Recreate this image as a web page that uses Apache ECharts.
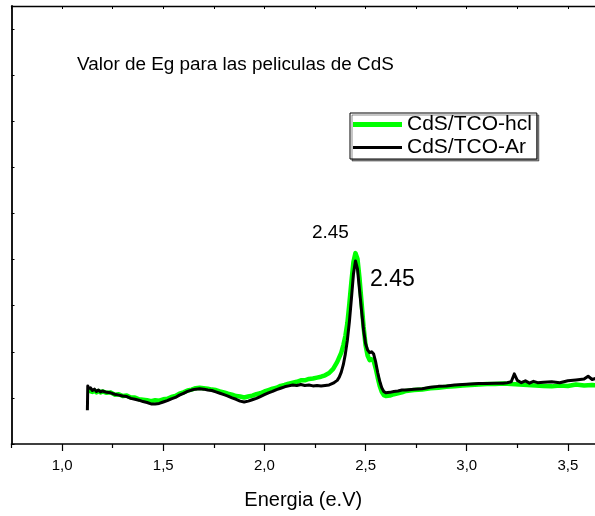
<!DOCTYPE html>
<html>
<head>
<meta charset="utf-8">
<script src="https://cdn.jsdelivr.net/npm/echarts@6.0.0/dist/echarts.min.js"></script>
<style>
  html, body { margin: 0; padding: 0; background: #fff; }
  #chart { width: 595px; height: 516px; }
</style>
</head>
<body>
<div id="chart"></div>
<script>
// Absorbance-derived Eg curves for two CdS films (x: photon energy in eV)
const hclEnergy = [1.135,1.14,1.15,1.16,1.17,1.18,1.19,1.20,1.22,1.24,1.26,1.28,1.30,1.32,1.34,1.36,1.38,1.40,1.42,1.44,1.46,1.48,1.50,1.52,1.54,1.56,1.58,1.60,1.62,1.64,1.66,1.68,1.70,1.72,1.74,1.76,1.78,1.80,1.82,1.84,1.86,1.88,1.90,1.92,1.94,1.96,1.98,2.00,2.02,2.04,2.06,2.08,2.10,2.12,2.14,2.16,2.18,2.20,2.22,2.24,2.26,2.28,2.30,2.32,2.34,2.36,2.38,2.39,2.40,2.41,2.42,2.43,2.44,2.45,2.46,2.47,2.48,2.49,2.50,2.51,2.52,2.53,2.54,2.55,2.56,2.57,2.58,2.59,2.60,2.62,2.64,2.66,2.68,2.70,2.74,2.78,2.82,2.86,2.90,2.94,2.98,3.02,3.06,3.10,3.14,3.18,3.22,3.26,3.30,3.34,3.38,3.42,3.46,3.50,3.54,3.58,3.62,3.645];
const hclSignal = [1.10,1.16,1.13,1.16,1.12,1.15,1.12,1.14,1.11,1.12,1.07,1.08,1.04,1.05,1.01,1.01,0.97,0.96,0.95,0.93,0.95,0.94,0.97,0.98,1.02,1.04,1.09,1.12,1.16,1.18,1.21,1.22,1.21,1.20,1.18,1.17,1.14,1.12,1.09,1.07,1.04,1.03,1.01,1.03,1.05,1.08,1.10,1.14,1.17,1.20,1.22,1.26,1.28,1.31,1.33,1.35,1.38,1.38,1.41,1.42,1.44,1.46,1.49,1.54,1.63,1.78,1.98,2.14,2.34,2.62,3.05,3.52,3.95,4.14,4.02,3.60,3.08,2.55,2.14,1.92,1.82,1.84,1.80,1.64,1.44,1.26,1.13,1.06,1.04,1.05,1.08,1.10,1.12,1.15,1.17,1.18,1.21,1.22,1.24,1.25,1.27,1.28,1.29,1.30,1.30,1.31,1.30,1.29,1.28,1.27,1.26,1.25,1.27,1.26,1.29,1.27,1.28,1.27];

const arEnergy = [1.125,1.127,1.13,1.14,1.15,1.16,1.17,1.18,1.19,1.20,1.22,1.24,1.26,1.28,1.30,1.32,1.34,1.36,1.38,1.40,1.42,1.44,1.46,1.48,1.50,1.52,1.54,1.56,1.58,1.60,1.62,1.64,1.66,1.68,1.70,1.72,1.74,1.76,1.78,1.80,1.82,1.84,1.86,1.88,1.90,1.92,1.94,1.96,1.98,2.00,2.02,2.04,2.06,2.08,2.10,2.12,2.14,2.16,2.18,2.20,2.22,2.24,2.26,2.28,2.30,2.32,2.34,2.36,2.37,2.38,2.39,2.40,2.41,2.42,2.43,2.44,2.45,2.46,2.47,2.48,2.49,2.50,2.51,2.52,2.53,2.54,2.55,2.56,2.57,2.58,2.59,2.60,2.62,2.64,2.66,2.68,2.70,2.74,2.78,2.82,2.86,2.90,2.94,2.98,3.02,3.06,3.10,3.14,3.18,3.20,3.22,3.235,3.25,3.27,3.29,3.31,3.33,3.35,3.38,3.42,3.46,3.50,3.54,3.58,3.60,3.62,3.645];
const arSignal = [0.73,1.26,1.20,1.22,1.16,1.19,1.14,1.17,1.13,1.15,1.12,1.11,1.08,1.06,1.04,1.03,0.99,0.97,0.95,0.92,0.90,0.87,0.87,0.88,0.91,0.94,0.98,1.01,1.06,1.10,1.14,1.17,1.19,1.20,1.19,1.17,1.16,1.13,1.10,1.07,1.04,1.00,0.97,0.93,0.91,0.93,0.96,0.99,1.03,1.07,1.11,1.14,1.18,1.21,1.24,1.26,1.28,1.27,1.29,1.27,1.28,1.26,1.27,1.26,1.27,1.28,1.32,1.38,1.45,1.56,1.72,1.95,2.25,2.65,3.15,3.68,3.97,3.80,3.35,2.90,2.48,2.18,2.04,1.98,2.00,1.95,1.78,1.55,1.36,1.22,1.14,1.11,1.12,1.14,1.15,1.17,1.17,1.19,1.20,1.23,1.25,1.26,1.28,1.29,1.30,1.31,1.31,1.32,1.32,1.33,1.35,1.52,1.38,1.33,1.37,1.32,1.36,1.33,1.34,1.35,1.33,1.37,1.39,1.41,1.47,1.40,1.43];

const seriesNames = ['CdS/TCO-hcl', 'CdS/TCO-Ar'];
const majorTicks = [1.0, 1.5, 2.0, 2.5, 3.0, 3.5];
const minorTicks = [0.75, 1.25, 1.75, 2.25, 2.75, 3.25];
const frameTicks = [0.75, 1.0, 1.25, 1.5, 1.75, 2.0, 2.25, 2.5, 2.75, 3.0, 3.25, 3.5];
const titleText = 'Valor de Eg para las peliculas de CdS';
const axisName = 'Energia (e.V)';

const FONT = '"Liberation Sans", Arial, sans-serif';
const X_MIN = 0.75, X_MAX = 3.634;
const Y_MIN = 0, Y_MAX = 9.5;

function pairs(xs, ys) { return xs.map((x, i) => [x, ys[i]]); }
function peakOf(xs, ys) {
  let k = 0;
  ys.forEach((v, i) => { if (v > ys[k]) k = i; });
  return [xs[k], ys[k]];
}

const gridRect = { left: 11.5, top: 6, right: 0, bottom: 72 };

const chart = echarts.init(document.getElementById('chart'), null, { renderer: 'canvas' });

chart.setOption({
  animation: false,
  backgroundColor: '#fff',
  title: {
    text: titleText,
    left: 77, top: 55, padding: 0,
    textStyle: { fontFamily: FONT, fontSize: 18.9, fontWeight: 'normal', color: '#000' }
  },
  legend: {
    data: [
      { name: seriesNames[0], icon: 'rect' },
      { name: seriesNames[1], icon: 'path://M0,0h49v3h-49z' }
    ],
    orient: 'vertical',
    left: 350, top: 113,
    itemWidth: 49, itemHeight: 5, itemGap: 0,
    padding: [0, 5, 0, 3],
    borderColor: '#000', borderWidth: 1,
    backgroundColor: '#fff',
    shadowColor: 'rgba(0,0,0,0.45)', shadowOffsetX: 2, shadowOffsetY: 2, shadowBlur: 0,
    textStyle: { fontFamily: FONT, fontSize: 21, lineHeight: 23, color: '#000' }
  },
  grid: [
    Object.assign({}, gridRect),
    Object.assign({}, gridRect)
  ],
  xAxis: [
    { // bottom axis: line, long ticks and labels
      type: 'value', gridIndex: 0, position: 'bottom',
      min: X_MIN, max: X_MAX,
      axisLine: { show: true, lineStyle: { color: '#000', width: 1.6 } },
      axisTick: { show: true, inside: false, length: 7, customValues: majorTicks,
                  lineStyle: { color: '#000', width: 1.2 } },
      axisLabel: { show: true, customValues: majorTicks, margin: 14,
                   fontFamily: FONT, fontSize: 15, color: '#000',
                   formatter: v => v.toFixed(1).replace('.', ',') },
      splitLine: { show: false },
      name: axisName, nameLocation: 'middle', nameGap: 46,
      nameTextStyle: { fontFamily: FONT, fontSize: 20, color: '#000' }
    },
    { // top frame with short inward ticks
      type: 'value', gridIndex: 0, position: 'top',
      min: X_MIN, max: X_MAX,
      axisLine: { show: true, lineStyle: { color: '#000', width: 1.4 } },
      axisTick: { show: true, inside: true, length: 3, customValues: frameTicks,
                  lineStyle: { color: '#000', width: 1 } },
      axisLabel: { show: false },
      splitLine: { show: false }
    },
    { // short outward ticks between labelled ones
      type: 'value', gridIndex: 1, position: 'bottom',
      min: X_MIN, max: X_MAX,
      axisLine: { show: false },
      axisTick: { show: true, inside: false, length: 4, customValues: minorTicks,
                  lineStyle: { color: '#000', width: 1.2 } },
      axisLabel: { show: false },
      splitLine: { show: false }
    }
  ],
  yAxis: [
    {
      type: 'value', gridIndex: 0, position: 'left',
      min: Y_MIN, max: Y_MAX, interval: 1,
      axisLine: { show: true, lineStyle: { color: '#000', width: 1.8 } },
      axisTick: { show: true, inside: true, length: 3, lineStyle: { color: '#000', width: 1 } },
      axisLabel: { show: false },
      splitLine: { show: false }
    },
    {
      type: 'value', gridIndex: 1, min: Y_MIN, max: Y_MAX, show: false
    }
  ],
  series: [
    {
      name: seriesNames[0], type: 'line', xAxisIndex: 0, yAxisIndex: 0,
      data: pairs(hclEnergy, hclSignal),
      symbol: 'none', smooth: false,
      lineStyle: { color: '#00ff00', width: 4.5, join: 'round' },
      itemStyle: { color: '#00ff00' },
      z: 3
    },
    {
      name: seriesNames[1], type: 'line', xAxisIndex: 0, yAxisIndex: 0,
      data: pairs(arEnergy, arSignal),
      symbol: 'none', smooth: false,
      lineStyle: { color: '#000', width: 3, join: 'round' },
      itemStyle: { color: '#000' },
      z: 4
    },
    { // peak position labels
      type: 'scatter', xAxisIndex: 0, yAxisIndex: 0,
      symbolSize: 0, silent: true, z: 5,
      itemStyle: { opacity: 1, color: '#000' },
      data: [
        { value: peakOf(hclEnergy, hclSignal),
          label: { show: true, position: 'inside', offset: [-25, -20], fontSize: 19 } },
        { value: peakOf(arEnergy, arSignal),
          label: { show: true, position: 'inside', offset: [37, 19], fontSize: 23 } }
      ],
      label: { fontFamily: FONT, color: '#000', opacity: 1,
               textBorderWidth: 0, textBorderColor: 'transparent',
               formatter: p => p.value[0].toFixed(2) }
    }
  ]
});
</script>
</body>
</html>
